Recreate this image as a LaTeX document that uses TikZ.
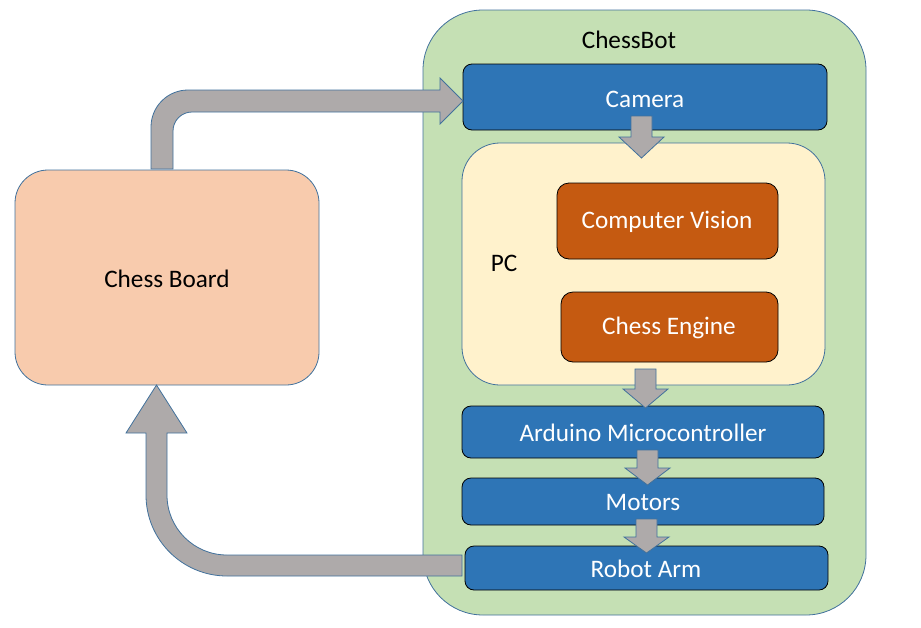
\documentclass[tikz,border=0pt]{standalone}
\usepackage{fontspec}
\setmainfont{Carlito}
\definecolor{outl}{HTML}{41719C}
\definecolor{boardfill}{HTML}{F8CBAD}
\definecolor{botfill}{HTML}{C5E0B4}
\definecolor{pcfill}{HTML}{FFF2CC}
\definecolor{bluefill}{HTML}{2E75B6}
\definecolor{orangefill}{HTML}{C55A11}
\definecolor{arrowfill}{HTML}{AEAAAA}
\tikzset{
  lbl/.style={font=\fontsize{25.2}{30}\selectfont, inner sep=0pt},
  rbox/.style={draw=outl, line width=0.8pt, inner sep=0pt, font=\fontsize{25.2}{30}\selectfont},
  bluebox/.style={rbox, draw=black, fill=bluefill, text=white, rounded corners=9pt},
  orangebox/.style={rbox, draw=black, fill=orangefill, text=white, rounded corners=12pt},
  blockarrow/.style={draw=outl, fill=arrowfill, line width=0.8pt, line join=miter},
}
\newcommand{\dnblock}[4]{% x center, y top, y head, y tip
  \fill[blockarrow] (#1-10.5,#2) -- (#1+10.5,#2) -- (#1+10.5,#3) -- (#1+22.5,#3)
    -- (#1,#4) -- (#1-22.5,#3) -- (#1-10.5,#3) -- cycle;}
\begin{document}
\begin{tikzpicture}[x=1pt,y=-1pt]
\useasboundingbox (0,0) rectangle (921,627);
% containers
\node[rbox, fill=botfill, rounded corners=60pt, minimum width=443pt, minimum height=605pt] (bot) at (644.5,312.5) {};
\node[lbl] (botlbl) at (629,40) {ChessBot};
\node[rbox, fill=boardfill, rounded corners=33pt, minimum width=304pt, minimum height=215pt] (board) at (167,277.5) {};
\node[lbl] (boardlbl) at (167,279) {Chess Board};
\node[rbox, fill=pcfill, rounded corners=38pt, minimum width=363pt, minimum height=242pt] (pc) at (643.5,264) {};
\node[lbl] (pclbl) at (504,263) {PC};
% inner boxes
\node[bluebox, minimum width=364pt, minimum height=66pt] (cam) at (645,97) {};
\node[lbl, text=white] (camlbl) at (645,99) {Camera};
\node[orangebox, minimum width=221pt, minimum height=76pt] (cv) at (667.5,221) {};
\node[lbl, text=white] (cvlbl) at (667,222) {Computer Vision};
\node[orangebox, minimum width=217pt, minimum height=70pt] (ce) at (669.5,327) {};
\node[lbl, text=white] (celbl) at (669,328) {Chess Engine};
\node[bluebox, minimum width=362pt, minimum height=52pt] (ard) at (643,432) {};
\node[lbl, text=white] (ardlbl) at (643,433) {Arduino Microcontroller};
\node[bluebox, minimum width=362pt, minimum height=47pt] (mot) at (643,501.5) {};
\node[lbl, text=white] (motlbl) at (643,503) {Motors};
\node[bluebox, minimum width=363pt, minimum height=44pt] (arm) at (646.5,568) {};
\node[lbl, text=white] (armlbl) at (646,569) {Robot Arm};
% down arrows
\dnblock{641.5}{116}{137}{158}
\dnblock{645.5}{369}{389}{408}
\dnblock{647.5}{450}{468}{485}
\dnblock{646.5}{519}{537}{553}
% board -> camera
\filldraw[blockarrow] (151,169) -- (151,127) arc[start angle=180, end angle=270, radius=37]
  -- (440,90) -- (440,78) -- (463,101) -- (440,124) -- (440,112) -- (192,112)
  arc[start angle=270, end angle=180, radius=19] -- (173,169) -- cycle;
% robot arm -> board
\filldraw[blockarrow] (462,555) -- (462,576) -- (227,576)
  arc[start angle=90, end angle=180, radius=81] -- (146,433) -- (126,433)
  -- (156.5,385) -- (187,433) -- (167,433) -- (167,495)
  arc[start angle=180, end angle=90, radius=60] -- cycle;
\end{tikzpicture}
\end{document}
